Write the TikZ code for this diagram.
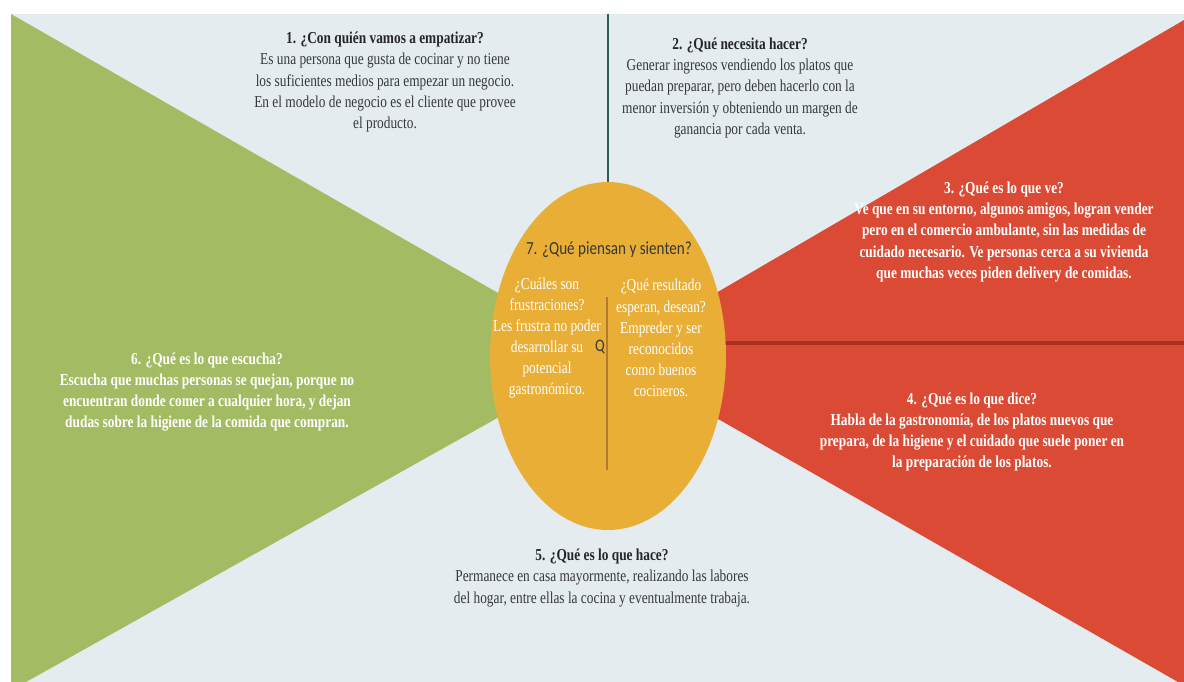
\documentclass[tikz,border=0pt]{standalone}
\usepackage{fontspec}
\usepackage{xcolor}
\usetikzlibrary{shapes.geometric}

\newfontfamily\serifc[FakeStretch=0.8]{Liberation Serif}
\newfontfamily\sansc[FakeStretch=0.82]{Carlito}

\definecolor{bgblue}{HTML}{E4ECEF}
\definecolor{olive}{HTML}{A3BB62}
\definecolor{tomato}{HTML}{DA4A35}
\definecolor{darkred}{HTML}{A9321F}
\definecolor{gold}{HTML}{E8AE36}
\definecolor{slate}{HTML}{2F5D59}
\definecolor{brownline}{HTML}{B27A2E}
\definecolor{inkgray}{HTML}{383838}

\begin{document}
\begin{tikzpicture}[
            x = 0.02cm, % one pixel of the map
            y = -0.02cm, % y grows downwards
            semithick % line style
        ]

        \tikzstyle{dark text}=[
            align = center,
            text = inkgray,
            inner sep = 0pt,
            font = \serifc\fontsize{9.5}{12}\selectfont
        ]
        \tikzstyle{light text}=[
            align = center,
            text = white,
            inner sep = 0pt,
            font = \serifc\bfseries\fontsize{9.5}{12}\selectfont
        ]
        \tikzstyle{bubble text}=[
            align = center,
            text = white,
            inner sep = 0pt,
            font = \serifc\fontsize{9.5}{12}\selectfont
        ]

        \useasboundingbox (0,0) rectangle (1184,682);
        \fill[white] (0,0) rectangle (1184,682);
        \fill[bgblue] (11,14) rectangle (1184,682);

        \coordinate (ctr) at (608,356);
        \coordinate (top) at (608,14);
        \coordinate (rend) at (1184,343);

        % side wedges
        \fill[olive] (11,14) -- (ctr) -- (26,682) -- (11,682) -- cycle;
        \fill[tomato] (1184,20) -- (ctr) -- (1178,682) -- (1184,682) -- cycle;

        \draw[slate, line width=1.6pt] (top) -- (ctr);
        \draw[darkred, line width=1.8pt] (rend -| ctr) -- (rend);

        % the thinking bubble
        \node[ellipse, fill=gold, inner sep=0pt,
              minimum width=4.72cm, minimum height=6.96cm] (think) at (ctr) {};
        \draw[brownline, line width=0.9pt] (607,297) -- (607,470);

        \node[dark text] (T1) at (385,82) {\textbf{\color{black!85}1. ¿Con quién vamos a empatizar?}\\
            Es una persona que gusta de cocinar y no tiene\\
            los suficientes medios para empezar un negocio.\\
            En el modelo de negocio es el cliente que provee\\
            el producto.};
        \node[dark text] (T2) at (740,88) {\textbf{\color{black!85}2. ¿Qué necesita hacer?}\\
            Generar ingresos vendiendo los platos que\\
            puedan preparar, pero deben hacerlo con la\\
            menor inversión y obteniendo un margen de\\
            ganancia por cada venta.};
        \node[light text] (T3) at (1004,232) {3. ¿Qué es lo que ve?\\
            Ve que en su entorno, algunos amigos, logran vender\\
            pero en el comercio ambulante, sin las medidas de\\
            cuidado necesario. Ve personas cerca a su vivienda\\
            que muchas veces piden delivery de comidas.};
        \node[light text] (T4) at (972,432) {4. ¿Qué es lo que dice?\\
            Habla de la gastronomía, de los platos nuevos que\\
            prepara, de la higiene y el cuidado que suele poner en\\
            la preparación de los platos.};
        \node[dark text] (T5) at (602,578) {\textbf{\color{black!85}5. ¿Qué es lo que hace?}\\
            Permanece en casa mayormente, realizando las labores\\
            del hogar, entre ellas la cocina y eventualmente trabaja.};
        \node[light text] (T6) at (207,392) {6. ¿Qué es lo que escucha?\\
            Escucha que muchas personas se quejan, porque no\\
            encuentran donde comer a cualquier hora, y dejan\\
            dudas sobre la higiene de la comida que compran.};

        \node[text=inkgray, inner sep=0pt, font=\sansc\fontsize{10.5}{12}\selectfont]
            (T7) at (609,250) {7. ¿Qué piensan y sienten?};
        \node[bubble text] (L) at (547,338) {¿Cuáles son\\ frustraciones?\\
            Les frustra no poder\\ desarrollar su\\ potencial\\ gastronómico.};
        \node[bubble text] (R) at (661,338) {¿Qué resultado\\ esperan, desean?\\
            Empreder y ser\\ reconocidos\\ como buenos\\ cocineros.};
        \node[text=inkgray, inner sep=0pt, font=\sansc\fontsize{10}{12}\selectfont]
            (Q) at (600,347) {Q};
    \end{tikzpicture}
\end{document}
